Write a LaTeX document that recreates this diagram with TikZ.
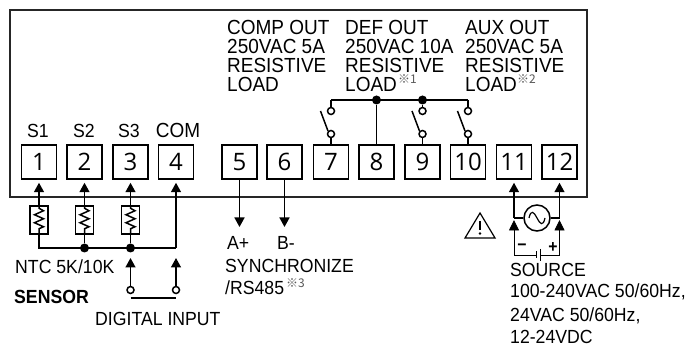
\documentclass[tikz,border=0pt]{standalone}
\usepackage{fontspec}
\setmainfont[FakeStretch=0.93]{Liberation Sans}
\newfontfamily\digitfont{Open Sans}
\newfontfamily\markfont{Noto Sans CJK KR}
\usetikzlibrary{arrows.meta}
\newcommand{\refmark}[1]{{\color{black!65}\markfont\fontsize{12}{12}\selectfont ※#1}}
\tikzset{
  wire/.style={line width=1.5pt,draw=black},
  arr/.style={wire,-{Triangle[length=9.5pt,width=10pt]}},
  term/.style={draw=black,line width=1.5pt,minimum width=35pt,minimum height=34pt,inner sep=0pt,font=\digitfont\fontsize{24}{24}\selectfont},
  res/.style={draw=black,line width=1.5pt,minimum width=18pt,minimum height=28pt,inner sep=0pt},
  lug/.style={circle,draw=black,line width=1.5pt,minimum size=7pt,inner sep=0pt,fill=white},
  dot/.style={circle,fill=black,minimum size=9pt,inner sep=0pt},
  txt/.style={anchor=base west,inner sep=0pt,font=\fontsize{19}{19}\selectfont},
  toptxt/.style={anchor=base west,inner sep=0pt,font=\fontsize{20.4}{20}\selectfont},
  sgn/.style={inner sep=0pt,font=\bfseries\fontsize{17}{15}\selectfont},
}
\begin{document}
\begin{tikzpicture}[x=1pt,y=-1pt]
\useasboundingbox (0,0) rectangle (688,347);
\fill[white] (0,0) rectangle (688,347);
% frame
\draw[line width=1.6pt,draw=black!85] (10,10) rectangle (587,197);
% terminals
\foreach \n/\x in {1/39,2/84.5,3/130.5,4/176,5/239.5,6/284.5,7/331,8/376.5,9/422.5,10/468,11/514,12/559.5}
  \node[term] (t\n) at (\x,162) {\n};
% top labels
\foreach \x/\a/\b/\c/\d in {227/COMP OUT/250VAC 5A/RESISTIVE/LOAD,345/DEF OUT/250VAC 10A/RESISTIVE/LOAD,465/AUX OUT/250VAC 5A/RESISTIVE/LOAD}{
  \node[toptxt] at (\x,35) {\a};
  \node[toptxt] at (\x,54) {\b};
  \node[toptxt] at (\x,73) {\c};
  \node[toptxt] at (\x,92) {\d};
}
\node[anchor=west,inner sep=0pt] (m1) at (398,79) {\refmark{1}};
\node[anchor=west,inner sep=0pt] (m2) at (517,79) {\refmark{2}};
% input labels
\node[txt,anchor=base] at (38,138) {S1};
\node[txt,anchor=base] at (84,138) {S2};
\node[txt,anchor=base] at (129,138) {S3};
\node[toptxt,anchor=base] at (178,138) {COM};
% sensor resistors
\foreach \n/\x in {1/39,2/84.5,3/130.5}{
  \node[res] (r\n) at (\x,220) {};
  \draw[wire] (r\n.north) -- ++(0,3) -- ++(4.5,2.5) -- ++(-9,4) -- ++(9,4) -- ++(-9,4) -- ++(9,4) -- ++(-4.5,2) -- (r\n.south);
  \draw[arr] (r\n.north) -- ([yshift=-3pt]t\n.south);
}
\coordinate (b1) at (39,248);
\node[dot] (d2) at (84.5,248) {};
\node[dot] (d3) at (130.5,248) {};
\coordinate (b4) at (176,248);
\draw[wire] (r1.south) -- (b1) -- (b4);
\draw[wire] (r2.south) -- (d2);
\draw[wire] (r3.south) -- (d3);
\draw[arr] (b4) -- ([yshift=-3pt]t4.south);
% digital input
\node[lug] (l3) at (130.5,290) {};
\node[lug] (l4) at (176,290) {};
\coordinate (a3) at (130.5,258);
\coordinate (a4) at (176,258);
\draw[arr] (l3) -- (a3);
\draw[arr] (l4) -- (a4);
\coordinate (g3) at (130.5,298);
\coordinate (g4) at (176,298);
\draw[line width=1.8pt] (g3) -- (g4);
\node[txt] at (15,274) {NTC 5K/10K};
\node[txt,font=\bfseries\fontsize{19}{19}\selectfont] at (14,304) {SENSOR};
\node[txt] at (95,325) {DIGITAL INPUT};
% sync
\coordinate (e5) at (239.5,227);
\coordinate (e6) at (284.5,227);
\draw[arr] (t5.south) -- (e5);
\draw[arr] (t6.south) -- (e6);
\node[txt] at (227,250) {A+};
\node[txt] at (277,250) {B-};
\node[txt] at (225,273) {SYNCHRONIZE};
\node[txt] at (225,295) {/RS485};
\node[anchor=west,inner sep=0pt] (m3) at (286,283) {\refmark{3}};
% relay contacts
\coordinate (c7) at (331,100);
\node[dot] (c8) at (376.5,100) {};
\node[dot] (c9) at (422.5,100) {};
\coordinate (c10) at (468,100);
\draw[wire] (c7) -- (c10);
\draw[wire] (c8) -- (t8.north);
\foreach \n/\x in {7/331,9/422.5,10/468}{
  \node[lug] (u\n) at (\x,111) {};
  \node[lug] (v\n) at (\x,134) {};
  \coordinate (s\n) at (\x-10.5,111);
  \draw[wire] (c\n) -- (u\n);
  \draw[wire] (v\n) -- (t\n.north);
  \draw[wire] (s\n) -- (v\n.north west);
}
% source
\node[circle,draw=black,line width=1.5pt,minimum size=26pt,inner sep=0pt] (ac) at (537,218) {};
\draw[line width=1.2pt] ([xshift=-8pt]ac.center) .. controls (531,209) and (534,212) .. (ac.center) .. controls (540,224) and (543,227) .. ([xshift=8pt]ac.center);
\coordinate (w11) at (514,218);
\coordinate (w12) at (559.5,218);
\draw[wire] (ac.west) -- (w11);
\draw[wire] (ac.east) -- (w12);
\draw[arr] (w11) -- ([yshift=-3pt]t11.south);
\draw[arr] (w12) -- ([yshift=-3pt]t12.south);
\coordinate (k11) at (514,255);
\coordinate (k12) at (559.5,255);
\coordinate (p1) at (536,255);
\coordinate (p2) at (540,255);
\coordinate (h11) at (514,220);
\coordinate (h12) at (559.5,220);
\draw[line width=.9pt,-{Triangle[length=10.5pt,width=10pt]}] (k11) -- (h11);
\draw[line width=.9pt,-{Triangle[length=10.5pt,width=10pt]}] (k12) -- (h12);
\draw[line width=.8pt] (k11) -- (p1) (p2) -- (k12);
\draw[line width=.8pt] (536,251.5) -- (536,258.5) (540,249) -- (540,261);
\node[sgn] at (522,247.5) {−};
\node[sgn] at (553,247.5) {+};
% warning
\draw[line width=1.2pt,line join=miter] (480,213) -- (495,238) -- (465,238) -- cycle;
\fill (480,233.5) circle (1.3pt);
\draw[line width=1.2pt] (480,221) -- (480,230);
% source text
\node[txt] at (510,277) {SOURCE};
\node[txt] at (510,298) {100-240VAC 50/60Hz,};
\node[txt] at (510,322) {24VAC 50/60Hz,};
\node[txt] at (510,343) {12-24VDC};
\end{tikzpicture}
\end{document}
